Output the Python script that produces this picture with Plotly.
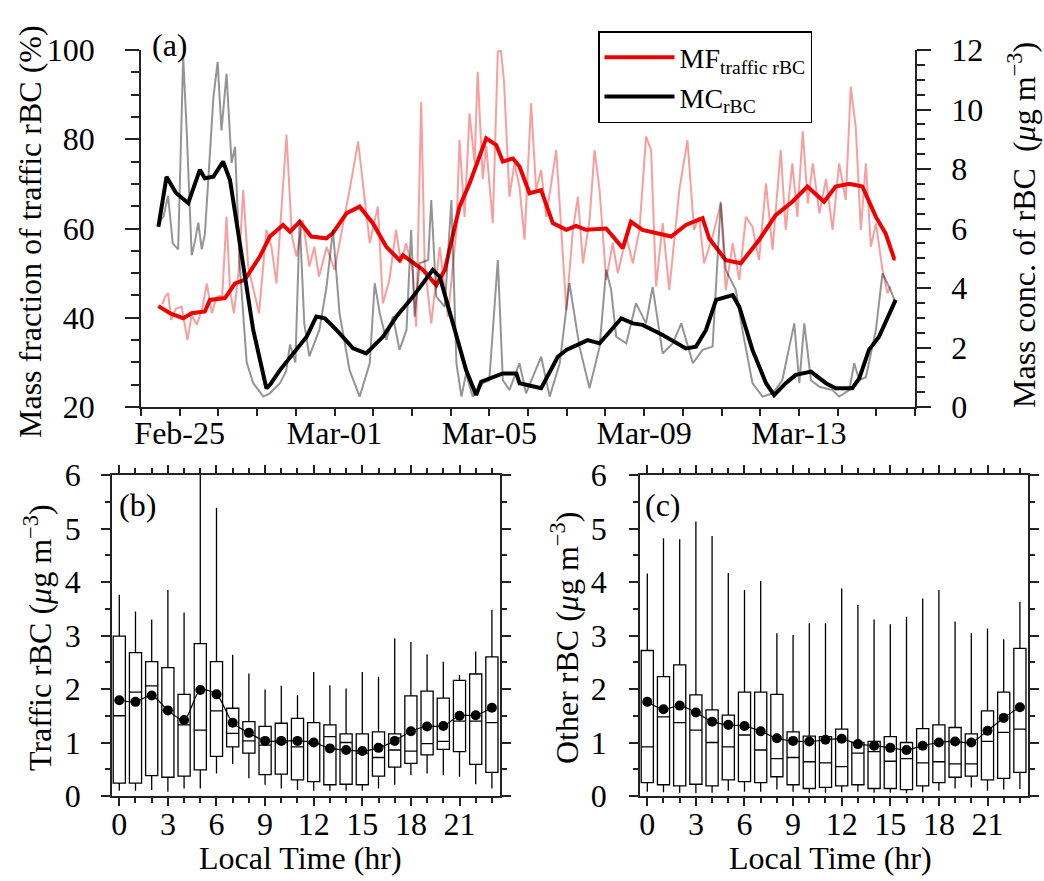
import pandas as pd
import plotly.graph_objects as go

# ---------------- data (panel a) ----------------
BASE = "2015-02-24"
# hourly-ish MC of rBC (grey, right axis), day offsets from Feb-24 00:00
mc_raw_day = [0.45, 0.58, 0.70, 0.82, 0.96, 1.09, 1.18, 1.31, 1.40, 1.48, 1.57, 1.65, 1.78, 1.87, 1.98,
              2.08, 2.21, 2.34, 2.43, 2.55, 2.73, 2.90, 3.16, 3.33, 3.59, 3.75, 3.85, 3.99, 4.10, 4.22,
              4.35, 4.61, 4.79, 4.96, 5.13, 5.39, 5.65, 5.91, 6.04, 6.17, 6.34, 6.51, 6.68, 6.86, 6.98,
              7.07, 7.20, 7.42, 7.50, 7.63, 7.85, 8.02, 8.15, 8.28, 8.40, 8.57, 8.83, 9.00, 9.22, 9.35,
              9.52, 9.78, 9.95, 10.34, 10.56, 10.82, 11.07, 11.33, 11.59, 11.85, 12.02, 12.15, 12.28,
              12.54, 12.79, 13.05, 13.22, 13.48, 13.74, 13.96, 14.26, 14.51, 14.77, 14.98, 15.11, 15.37,
              15.54, 15.80, 16.06, 16.32, 16.57, 16.88, 17.01, 17.14, 17.31, 17.53, 17.87, 18.04, 18.30,
              18.43, 18.56, 18.73, 18.99, 19.16, 19.37, 19.50]
mc_raw_val = [6.2, 6.4, 7.1, 5.5, 5.3, 11.8, 9.3, 5.1, 5.6, 6.2, 5.3, 5.8, 8.5, 10.4, 11.6,
              9.3, 11.2, 8.2, 8.75, 4.8, 1.5, 0.8, 0.35, 0.46, 0.8, 1.2, 2.1, 1.5, 6.3, 2.8,
              1.7, 2.6, 4.0, 5.95, 3.15, 1.24, 0.35, 1.47, 4.16, 3.15, 2.25, 3.04, 1.92, 2.59, 5.95,
              3.04, 4.83, 4.94, 6.96, 3.71, 3.37, 6.96, 1.47, 0.35, 1.13, 0.35, 0.8, 0.9, 4.94, 0.9,
              0.57, 1.47, 0.46, 1.69, 0.35, 1.47, 4.16, 2.03, 0.63, 2.03, 4.61, 3.93, 2.36,
              2.14, 3.49, 2.81, 4.04, 1.8, 2.14, 2.81, 1.47, 1.92, 2.03, 6.9, 4.61, 3.93,
              2.59, 0.8, 0.35, 0.46, 0.9, 2.81, 0.8, 2.81, 0.9, 0.68, 0.57, 0.35, 0.57,
              1.47, 0.9, 1.0, 2.59, 4.49, 3.93, 3.49]

# hourly-ish MF of traffic rBC (light red, left axis)
mf_raw_day = [0.55, 0.62, 0.70, 0.78, 0.90, 1.05, 1.20, 1.31, 1.44, 1.58, 1.70, 1.83, 1.96, 2.10, 2.21,
              2.30, 2.40, 2.52, 2.64, 2.77, 2.95, 3.05, 3.24, 3.37, 3.50, 3.76, 3.90, 4.02, 4.18, 4.35,
              4.48, 4.60, 4.80, 5.00, 5.20, 5.39, 5.61, 5.74, 5.91, 6.12, 6.25, 6.42, 6.59, 6.72, 6.85,
              7.02, 7.11, 7.24, 7.33, 7.50, 7.72, 7.93, 8.15, 8.23, 8.36, 8.49, 8.62, 8.70, 8.83, 8.92,
              9.09, 9.22, 9.30, 9.38, 9.52, 9.65, 9.78, 9.91, 10.08, 10.21, 10.34, 10.47, 10.73, 10.86,
              10.99, 11.16, 11.29, 11.42, 11.59, 11.72, 11.85, 12.02, 12.19, 12.32, 12.54, 12.71, 12.88,
              13.05, 13.18, 13.31, 13.48, 13.65, 13.91, 14.12, 14.29, 14.42, 14.55, 14.77, 14.98, 15.11,
              15.29, 15.46, 15.63, 15.80, 15.97, 16.15, 16.32, 16.53, 16.66, 16.83, 16.96, 17.10, 17.23,
              17.36, 17.53, 17.70, 17.87, 18.04, 18.21, 18.34, 18.47, 18.60, 18.73, 18.86, 18.99, 19.16,
              19.29, 19.37]
mf_raw_val = [43, 44.7, 45.5, 39.5, 42, 42.5, 35, 40.6, 38.4, 42, 47.7, 41, 44.7, 45, 62.6,
              46.2, 41, 50, 68.6, 51.5, 44.7, 41, 59.7, 56, 47.7, 81, 58.2, 53.7, 61.9, 51.5,
              55.9, 49.2, 55.9, 50.7, 60, 68.6, 79.5, 70.1, 56.7, 64.9, 43.2, 48.5, 59.7, 52.2, 56.7,
              50.7, 38.0, 88.4, 52.2, 38.7, 55.9, 40.2, 59.7, 79.8, 62.6, 85.8, 74.6, 95.1, 71.1, 78.5,
              61.2, 99.6, 100, 93, 67.1, 74.6, 69.4, 57.5, 88.1, 68.6, 73.1, 62.6, 77.6, 59.7,
              41.7, 59.7, 67.1, 52.2, 61.9, 77.6, 68.6, 48.5, 56.7, 50, 58.2, 52.2, 59.7,
              80.6, 77.6, 47, 61.2, 46.2, 68.6, 79.8, 59.7, 62.6, 52.2, 58.2, 65.6, 46.2,
              56.7, 48.5, 62.6, 60.4, 52.9, 70.1, 55.2, 77.6, 59.7, 74.6, 62.6, 81.8, 65.6,
              74.6, 63.4, 71.1, 59.7, 74.6, 66.4, 91.8, 82.6, 59.7, 74.6, 55.9, 61.2, 50.7,
              45.5, 47]

# smoothed MC (black, right axis)
mc_smooth_day = [0.45, 0.66, 0.90, 1.22, 1.52, 1.65, 1.87, 2.12, 2.30, 2.64, 2.90, 3.24, 3.33, 3.59, 4.02,
                 4.28, 4.53, 4.75, 5.05, 5.48, 5.82, 6.25, 6.60, 7.03, 7.54, 7.72, 8.06, 8.40, 8.66, 8.79,
                 9.35, 9.70, 9.78, 10.34, 10.77, 10.99, 11.54, 11.85, 12.15, 12.41, 12.71, 12.96, 13.48,
                 14.08, 14.34, 14.60, 14.86, 15.29, 15.46, 15.80, 16.15, 16.36, 16.66, 16.92, 17.31, 17.70,
                 17.95, 18.38, 18.56, 18.81, 19.07, 19.50]
mc_smooth_val = [6.06, 7.74, 7.2, 6.85, 7.97, 7.69, 7.74, 8.25, 7.63, 4.83, 2.59, 0.63, 0.74, 1.24, 1.92,
                 2.36, 3.04, 2.98, 2.59, 1.97, 1.80, 2.36, 3.04, 3.71, 4.61, 4.38, 2.81, 1.24, 0.40, 0.85,
                 1.13, 1.13, 0.80, 0.63, 1.69, 1.92, 2.25, 2.14, 2.59, 2.98, 2.81, 2.76, 2.42,
                 1.97, 2.03, 2.59, 3.60, 3.76, 3.37, 1.92, 0.80, 0.40, 0.80, 1.08, 1.19, 0.80,
                 0.63, 0.63, 0.96, 1.92, 2.36, 3.60]

# smoothed MF (red, left axis)
mf_smooth_day = [0.45, 0.75, 1.09, 1.31, 1.65, 1.78, 2.17, 2.43, 2.68, 3.07, 3.33, 3.67, 3.85, 4.10, 4.40,
                 4.79, 4.96, 5.31, 5.65, 5.99, 6.34, 6.68, 6.77, 6.94, 7.29, 7.63, 7.85, 8.23, 8.49, 8.92,
                 9.18, 9.35, 9.61, 9.78, 10.04, 10.34, 10.64, 10.99, 11.24, 11.50, 12.02, 12.45, 12.66,
                 12.96, 13.31, 13.70, 14.08, 14.51, 14.68, 15.11, 15.50, 15.97, 16.40, 16.83, 17.22, 17.65,
                 17.95, 18.30, 18.64, 18.99, 19.24, 19.46, 19.50]
mf_smooth_val = [42.6, 41.0, 39.9, 41.0, 41.4, 44.0, 44.4, 47.7, 48.5, 53.7, 58.2, 60.8, 59.3, 61.5, 58.2,
                 57.8, 59.0, 63.4, 64.9, 61.2, 55.9, 52.9, 54.0, 52.9, 50.7, 47.3, 50.7, 64.9, 70.1, 80.2,
                 78.7, 75.0, 75.7, 73.9, 67.9, 68.6, 61.2, 59.7, 60.6, 59.7, 60.0, 55.6, 61.5,
                 59.7, 58.9, 58.2, 60.8, 62.3, 57.8, 52.9, 52.2, 57.4, 63.0, 66.0, 69.4, 66.0,
                 69.4, 70.0, 69.4, 62.6, 58.9, 53.3, 53.3]

# ---------------- data (panels b, c) ----------------
hours = list(range(24))
tr_hi = [3.76, 3.45, 3.30, 3.85, 3.43, 6.10, 5.39, 2.64, 2.29, 1.99, 2.06, 1.89, 2.32, 2.07, 2.01, 2.32,
         2.23, 2.95, 2.88, 2.65, 2.51, 2.26, 2.70, 3.48]
tr_q3 = [2.99, 2.68, 2.51, 2.40, 1.90, 2.85, 2.51, 1.64, 1.39, 1.30, 1.36, 1.45, 1.37, 1.33, 1.16, 1.16,
         1.20, 1.16, 1.87, 1.96, 1.83, 2.16, 2.28, 2.60]
tr_med = [1.50, 1.94, 2.06, 1.60, 1.33, 1.23, 1.59, 1.17, 1.03, 0.95, 1.00, 0.92, 0.98, 1.11, 1.00, 0.80,
          0.72, 0.86, 0.84, 0.98, 1.02, 1.40, 1.40, 1.37]
tr_q1 = [0.24, 0.24, 0.38, 0.35, 0.37, 0.49, 0.74, 0.92, 0.80, 0.40, 0.41, 0.30, 0.27, 0.21, 0.22, 0.21,
         0.37, 0.54, 0.61, 0.77, 0.87, 0.83, 0.59, 0.44]
tr_lo = [0.10, 0.10, 0.11, 0.08, 0.14, 0.14, 0.42, 0.60, 0.33, 0.21, 0.14, 0.11, 0.10, 0.10, 0.10, 0.10,
         0.14, 0.21, 0.39, 0.42, 0.39, 0.36, 0.22, 0.14]
tr_mean = [1.79, 1.76, 1.88, 1.60, 1.42, 1.98, 1.90, 1.37, 1.18, 1.03, 1.03, 1.03, 1.00, 0.89, 0.86, 0.84,
           0.90, 1.03, 1.21, 1.30, 1.31, 1.50, 1.51, 1.65]

ot_hi = [4.16, 4.82, 4.80, 5.13, 4.86, 4.17, 3.85, 4.02, 3.04, 3.01, 3.23, 3.23, 3.88, 3.57, 3.30, 3.21,
         3.35, 3.69, 3.85, 3.26, 3.04, 3.13, 2.93, 3.63]
ot_q3 = [2.72, 2.23, 2.45, 1.89, 1.61, 1.51, 1.94, 1.94, 1.90, 1.20, 1.12, 1.11, 1.25, 1.00, 1.02, 1.11,
         1.00, 1.26, 1.33, 1.28, 1.16, 1.59, 1.94, 2.76]
ot_med = [0.92, 1.48, 1.37, 1.23, 1.00, 0.92, 1.14, 0.86, 0.70, 0.72, 0.64, 0.62, 0.55, 0.80, 0.83, 0.65,
          0.70, 0.62, 0.64, 0.60, 0.60, 1.02, 1.19, 1.25]
ot_q1 = [0.25, 0.21, 0.19, 0.22, 0.19, 0.30, 0.27, 0.25, 0.36, 0.21, 0.14, 0.16, 0.19, 0.21, 0.14, 0.14,
         0.12, 0.19, 0.25, 0.35, 0.37, 0.30, 0.33, 0.44]
ot_lo = [0.08, 0.07, 0.06, 0.05, 0.06, 0.10, 0.08, 0.08, 0.12, 0.08, 0.06, 0.06, 0.07, 0.08, 0.06, 0.06,
         0.05, 0.07, 0.10, 0.14, 0.16, 0.10, 0.12, 0.13]
ot_mean = [1.76, 1.62, 1.69, 1.56, 1.39, 1.33, 1.31, 1.21, 1.08, 1.03, 1.02, 1.05, 1.07, 0.97, 0.94, 0.90,
           0.86, 0.94, 1.00, 1.02, 1.00, 1.22, 1.46, 1.66]

# ---------------- helpers ----------------
W, H = 1044, 881
FONT = "Liberation Serif"
def to_dates(days):
    return pd.Timestamp(BASE) + pd.to_timedelta(days, unit="D")
def px(x):
    return x / W
def py(y):
    return 1 - y / H

fig = go.Figure()

# panel a
fig.add_trace(go.Scatter(x=to_dates(mc_raw_day), y=mc_raw_val, mode="lines", yaxis="y2", xaxis="x",
                         line=dict(color="rgba(0,0,0,0.42)", width=2), showlegend=False, hoverinfo="skip"))
fig.add_trace(go.Scatter(x=to_dates(mf_raw_day), y=mf_raw_val, mode="lines", yaxis="y", xaxis="x",
                         line=dict(color="rgba(240,40,40,0.45)", width=2), showlegend=False, hoverinfo="skip"))
fig.add_trace(go.Scatter(x=to_dates(mf_smooth_day), y=mf_smooth_val, mode="lines", yaxis="y", xaxis="x",
                         line=dict(color="#ee0000", width=4), name="MF<sub>traffic rBC</sub>"))
fig.add_trace(go.Scatter(x=to_dates(mc_smooth_day), y=mc_smooth_val, mode="lines", yaxis="y2", xaxis="x",
                         line=dict(color="black", width=4), name="MC<sub>rBC</sub>"))

# panels b and c
for xa, ya, hi, q3, med, q1, lo, mean in [("x2", "y3", tr_hi, tr_q3, tr_med, tr_q1, tr_lo, tr_mean),
                                          ("x3", "y4", ot_hi, ot_q3, ot_med, ot_q1, ot_lo, ot_mean)]:
    fig.add_trace(go.Box(x=hours, q1=q1, median=med, q3=q3, lowerfence=lo, upperfence=hi,
                         xaxis=xa, yaxis=ya, width=0.75, whiskerwidth=0, fillcolor="white",
                         line=dict(color="black", width=1.3), boxpoints=False, showlegend=False,
                         hoverinfo="skip"))
    fig.add_trace(go.Scatter(x=hours, y=mean, xaxis=xa, yaxis=ya, mode="lines+markers",
                             line=dict(color="black", width=1.2, shape="spline", smoothing=0.8),
                             marker=dict(color="black", size=10), showlegend=False, hoverinfo="skip"))

tickfont = dict(family=FONT, size=32, color="black")
LC = "#222"
common = dict(showgrid=False, zeroline=False, showline=True, linecolor=LC, linewidth=1.5, automargin=False,
              ticks="outside", tickcolor=LC, tickwidth=1.5, tickfont=tickfont)

DAY = 86400000
fig.update_layout(
    template="none",
    width=W, height=H, margin=dict(l=0, r=0, t=0, b=0, pad=0, autoexpand=False),
    paper_bgcolor="white", plot_bgcolor="white",
    font=dict(family=FONT, size=30, color="black"),
    xaxis=dict(domain=[px(141), px(915)], anchor="y", type="date",
               range=[to_dates(0), to_dates(20)], tick0="2015-02-25", dtick=4 * DAY,
               tickformat="%b-%d", ticklen=7, ticklabelstandoff=-10,
               minor=dict(dtick=DAY, tick0="2015-02-24", ticks="outside", ticklen=7, tickcolor=LC, tickwidth=1.5),
               **common),
    yaxis=dict(domain=[py(407), py(50)], anchor="x", range=[20, 100], dtick=20, ticklen=14,
               ticklabelstandoff=24,
               minor=dict(dtick=5, ticks="outside", ticklen=8, tickcolor=LC, tickwidth=1.5), **common),
    yaxis2=dict(overlaying="y", side="right", anchor="x", range=[0, 12], dtick=2, ticklen=14,
                ticklabelstandoff=14,
                minor=dict(dtick=0.5, ticks="outside", ticklen=8, tickcolor=LC, tickwidth=1.5), **common),
    xaxis2=dict(domain=[px(112), px(500)], anchor="y3", range=[-0.45, 23.5], tick0=0, dtick=3, ticklen=8,
                ticklabelstandoff=-9,
                mirror="ticks", minor=dict(dtick=1, tick0=0, ticks="outside", ticklen=5, tickcolor=LC, tickwidth=1.5),
                **common),
    yaxis3=dict(domain=[py(796), py(475)], anchor="x2", range=[0, 6], dtick=1, ticklen=9, mirror="ticks",
                ticklabelstandoff=14,
                minor=dict(dtick=0.5, ticks="outside", ticklen=5, tickcolor=LC, tickwidth=1.5), **common),
    xaxis3=dict(domain=[px(640), px(1028)], anchor="y4", range=[-0.45, 23.5], tick0=0, dtick=3, ticklen=8,
                ticklabelstandoff=-9,
                mirror="ticks", minor=dict(dtick=1, tick0=0, ticks="outside", ticklen=5, tickcolor=LC, tickwidth=1.5),
                **common),
    yaxis4=dict(domain=[py(796), py(475)], anchor="x3", range=[0, 6], dtick=1, ticklen=9, mirror="ticks",
                ticklabelstandoff=16,
                minor=dict(dtick=0.5, ticks="outside", ticklen=5, tickcolor=LC, tickwidth=1.5), **common),
    showlegend=True,
    legend=dict(x=px(598), y=py(31), xanchor="left", yanchor="top", bordercolor="black", borderwidth=1.5,
                bgcolor="white", font=dict(family=FONT, size=28, color="black"), itemwidth=70,
                tracegroupgap=0),
)

def ann(text, x, y, size=31, angle=0):
    fig.add_annotation(text=text, x=px(x), y=py(y), xref="paper", yref="paper", showarrow=False,
                       textangle=angle, font=dict(family=FONT, size=size, color="black"),
                       xanchor="center", yanchor="middle")

ann("Mass fraction of traffic rBC (%)", 30, 232, size=32, angle=-90)
ann("Mass conc. of rBC  (<i>μ</i>g m<sup>−3</sup>)", 1022, 225, size=32, angle=-90)
ann("Traffic rBC (<i>μ</i>g m<sup>−3</sup>)", 38, 638, size=32, angle=-90)
ann("Other rBC (<i>μ</i>g m<sup>−3</sup>)", 565, 638, size=32, angle=-90)
ann("Local Time (hr)", 300, 858, size=32)
ann("Local Time (hr)", 830, 858, size=32)
ann("(a)", 170, 45, size=32)
ann("(b)", 137, 505, size=32)
ann("(c)", 663, 505, size=32)

fig.write_html("out.html")
